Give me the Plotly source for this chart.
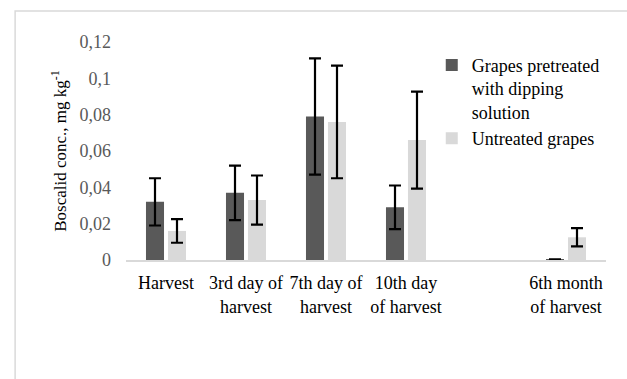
import plotly.graph_objects as go

categories = ["Harvest", "3rd day of<br>harvest", "7th day of<br>harvest",
              "10th day<br>of harvest", " ", "6th month<br>of harvest"]
pretreated = [0.032, 0.037, 0.079, 0.029, None, 0.0004]
pretreated_err = [0.013, 0.015, 0.032, 0.012, None, 0.0]
untreated = [0.016, 0.033, 0.076, 0.066, None, 0.0125]
untreated_err = [0.0065, 0.0135, 0.031, 0.0267, None, 0.005]
y_ticks = [0, 0.02, 0.04, 0.06, 0.08, 0.1, 0.12]
y_tick_text = ["0", "0,02", "0,04", "0,06", "0,08", "0,1", "0,12"]

FONT = "Liberation Serif, Times New Roman, serif"

fig = go.Figure()
fig.add_trace(go.Bar(
    x=categories, y=pretreated, name="Grapes pretreated<br>with dipping<br>solution",
    marker=dict(color="#595959", line=dict(width=0)),
    error_y=dict(type="data", array=pretreated_err, color="black", thickness=2.2, width=6),
))
fig.add_trace(go.Bar(
    x=categories, y=untreated, name="Untreated grapes",
    marker=dict(color="#d9d9d9", line=dict(width=0)),
    error_y=dict(type="data", array=untreated_err, color="black", thickness=2.2, width=6),
))

fig.update_layout(
    width=627, height=379,
    margin=dict(l=126, r=21, t=42, b=119, autoexpand=False),
    paper_bgcolor="white", plot_bgcolor="white",
    barmode="group", bargap=0.45, bargroupgap=0.18,
    font=dict(family=FONT, size=18, color="black"),
    legend=dict(x=0.637, y=0.978, xanchor="left", yanchor="top", valign="top",
                font=dict(family=FONT, size=18, color="black"),
                bgcolor="rgba(0,0,0,0)", tracegroupgap=6),
    showlegend=True,
    shapes=[dict(type="rect", xref="paper", yref="paper",
                 x0=-0.231, x1=1.5, y0=-1.5, y1=1.142,
                 line=dict(color="#d9d9d9", width=1.5), layer="below")],
)
fig.update_xaxes(
    type="category", showgrid=False, showline=True, linecolor="#d9d9d9", linewidth=1.5,
    ticks="", tickfont=dict(family=FONT, size=18, color="black"), tickangle=0,
    ticklabelstandoff=6, automargin=False,
)
fig.update_yaxes(
    range=[0, 0.12], tickvals=y_ticks, ticktext=y_tick_text, showgrid=False,
    zeroline=False, showline=False, ticks="", ticklabelstandoff=14, automargin=False,
    tickfont=dict(family=FONT, size=18, color="#595959"),
    title=dict(text="Boscalid conc., mg kg<sup>-1</sup>", standoff=8,
               font=dict(family=FONT, size=17, color="black")),
)

fig.write_html("out.html", config={"displayModeBar": False},
               post_script="document.body.style.margin='0';")
